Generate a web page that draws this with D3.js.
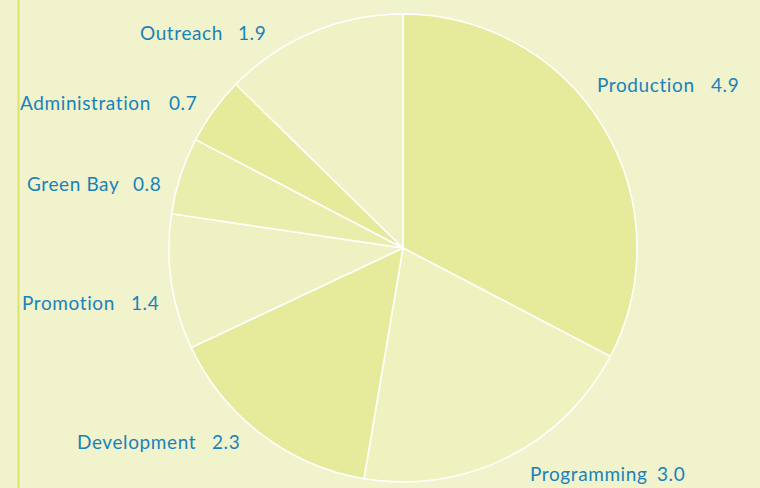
<!DOCTYPE html>
<html><head><meta charset="utf-8">
<script src="https://cdn.jsdelivr.net/npm/d3@7"></script>
<style>
html,body{margin:0;padding:0;background:#f0f3cb;}
svg{display:block;}
text{font-family:Lato,"Open Sans",sans-serif;font-size:19px;fill:#1982bb;letter-spacing:0.6px;}
</style></head><body>
<svg id="chart" width="760" height="488"></svg>
<script>
const categories = ["Production","Programming","Development","Promotion","Green Bay","Administration","Outreach"];
const values = [4.9, 3.0, 2.3, 1.4, 0.8, 0.7, 1.9];
const valueLabels = ["4.9","3.0","2.3","1.4","0.8","0.7","1.9"];

// layout (not data)
const sliceFill = ["#e6eb9b","#eef2bf","#e6eb9b","#eef2c2","#eaeead","#e6eb9b","#eef2c4"];
const labelX = [597, 530, 77, 22, 27, 20, 140];
const valueX = [711, 657, 212, 131, 133, 169, 238];
const labelY = [92, 481, 449, 310, 191, 110, 40];

const svg = d3.select("#chart");
const W = 760, H = 488;
svg.append("rect").attr("width",W).attr("height",H).attr("fill","#f0f3cb");
svg.append("line").attr("x1",18.5).attr("x2",18.5).attr("y1",0).attr("y2",H)
  .attr("stroke","#dce46e").attr("stroke-width",2);

const cx = 403, cy = 248, R = 234;
const pie = d3.pie().sort(null).value(d => d)(values);
const arc = d3.arc().innerRadius(0).outerRadius(R);
const g = svg.append("g").attr("transform",`translate(${cx},${cy})`);
g.selectAll("path").data(pie).join("path")
  .attr("d", arc)
  .attr("fill", (d,i) => sliceFill[i])
  .attr("stroke","#ffffff").attr("stroke-width",1.5).attr("stroke-linejoin","round");

const lbl = svg.append("g");
categories.forEach((c,i) => {
  lbl.append("text").attr("x",labelX[i]).attr("y",labelY[i]).text(c);
  lbl.append("text").attr("x",valueX[i]).attr("y",labelY[i]).text(valueLabels[i]);
});
</script>
</body></html>
